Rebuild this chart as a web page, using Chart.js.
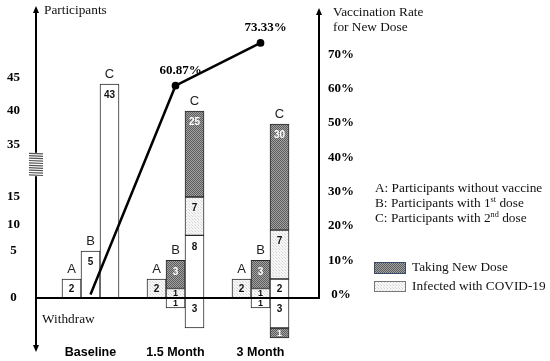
<!DOCTYPE html>
<html><head><meta charset="utf-8">
<script src="https://cdn.jsdelivr.net/npm/chart.js@4.4.1/dist/chart.umd.min.js"></script>
<style>html,body{margin:0;padding:0;background:#fff;overflow:hidden}canvas{display:block}</style>
</head><body>
<canvas id="c" width="550" height="361"></canvas>
<script>
// ---------------- data ----------------
const categories = ['Baseline', '1.5 Month', '3 Month'];
const groupLetters = ['A', 'B', 'C'];
// participants still in study (positive) and withdrawn (negative)
const aNoNewDose = [2, null, null];
const aInfected = [null, 2, 2];
const bNoNewDose = [5, null, null];
const bInfected = [null, 1, 1];
const bNewDose = [null, 3, 3];
const bWithdraw = [null, -1, -1];
const cNoNewDose = [43, 8, 2];
const cInfected = [null, 7, 7];
const cNewDose = [null, 25, 30];
const cWithdraw = [null, -3, -3];
const cWithdrawNewDose = [null, null, -1];
// vaccination rate for new dose (%)
const vaccinationRate = [0, 60.87, 73.33];
const leftTicks = [0, 5, 10, 15, 35, 40, 45];
const rightTicks = [0, 10, 20, 30, 40, 50, 60, 70];

// ---------------- schematic broken axis ----------------
const DESIGN_TOP = 10, DESIGN_BOTTOM = 340;
const BREAK_KNOTS = [[-5, 348], [0, 298], [2, 279], [5, 251], [10, 225], [15, 197], [35, 145], [39, 124], [40, 111], [43, 84], [45, 78], [50, 62]];
function designPx(v) {
  const k = BREAK_KNOTS;
  let i = 0;
  while (i < k.length - 2 && v > k[i + 1][0]) i++;
  const [v0, p0] = k[i], [v1, p1] = k[i + 1];
  return p0 + (v - v0) * (p1 - p0) / (v1 - v0);
}
function designVal(px) {
  const k = BREAK_KNOTS;
  let i = 0;
  while (i < k.length - 2 && px < k[i + 1][1]) i++;
  const [v0, p0] = k[i], [v1, p1] = k[i + 1];
  return v0 + (px - p0) * (v1 - v0) / (p1 - p0);
}
class BrokenScale extends Chart.LinearScale {
  static id = 'broken';
  static defaults = {};
  getPixelForValue(value) {
    if (value === null || value === undefined || isNaN(value)) return NaN;
    const px = designPx(value);
    return this.getPixelForDecimal((DESIGN_BOTTOM - px) / (DESIGN_BOTTOM - DESIGN_TOP));
  }
  getValueForPixel(pixel) {
    const dec = this.getDecimalForPixel(pixel);
    return designVal(DESIGN_BOTTOM - dec * (DESIGN_BOTTOM - DESIGN_TOP));
  }
}
Chart.register(BrokenScale);

// ---------------- patterns ----------------
function makePattern(cells) {
  const n = cells.length;
  const c = document.createElement('canvas');
  c.width = n; c.height = n;
  const g = c.getContext('2d');
  cells.forEach((row, y) => row.forEach((col, x) => { g.fillStyle = col; g.fillRect(x, y, 1, 1); }));
  return g.createPattern(c, 'repeat');
}
const DARK = makePattern([['#5c5c5c', '#a2a2a2'], ['#a2a2a2', '#5c5c5c']]);
const DOTS = makePattern([['#d2d2d2', '#f7f7f7', '#f7f7f7'], ['#f7f7f7', '#ececec', '#f7f7f7'], ['#f7f7f7', '#f7f7f7', '#dcdcdc']]);
const WHITE = '#ffffff';

const SERIF = "'Liberation Serif','Times New Roman',serif";
const SANS = "'Liberation Sans',Arial,sans-serif";

function pts(arr) { return arr.map((v, i) => ({ x: i, y: v })); }
function bar(stack, arr, fill, textColor) {
  return { type: 'bar', stack, data: pts(arr), backgroundColor: fill, borderColor: '#2a2a2a', borderWidth: 1,
    borderSkipped: false, barThickness: 19, order: 1, valueColor: textColor, yAxisID: 'y' };
}

const datasets = [
  { type: 'line', data: pts(vaccinationRate), yAxisID: 'yR', borderColor: '#000', borderWidth: 2.5,
    pointRadius: [0, 2.6, 2.6], pointBackgroundColor: '#000', pointBorderColor: '#000', tension: 0, order: 0 },
  bar('A', aNoNewDose, WHITE, '#111'),
  bar('A', aInfected, DOTS, '#111'),
  bar('B', bNoNewDose, WHITE, '#111'),
  bar('B', bInfected, DOTS, '#111'),
  bar('B', bNewDose, DARK, '#fff'),
  bar('B', bWithdraw, WHITE, '#111'),
  bar('C', cNoNewDose, WHITE, '#111'),
  bar('C', cInfected, DOTS, '#111'),
  bar('C', cNewDose, DARK, '#fff'),
  bar('C', cWithdraw, WHITE, '#111'),
  bar('C', cWithdrawNewDose, DARK, '#fff'),
];

function arrow(ctx, x, y, dir) {
  ctx.beginPath();
  ctx.moveTo(x, y);
  ctx.lineTo(x - 3, y - 7 * dir);
  ctx.lineTo(x + 3, y - 7 * dir);
  ctx.closePath();
  ctx.fill();
}
function supText(ctx, parts, x, y, size) {
  let cx = x;
  parts.forEach(([t, sup]) => {
    ctx.font = (sup ? size * 0.62 : size) + 'px ' + SERIF;
    ctx.fillText(t, cx, sup ? y - size * 0.3 : y);
    cx += ctx.measureText(t).width;
  });
}
function noPad(s) { s.paddingTop = 0; s.paddingBottom = 0; s.paddingLeft = 0; s.paddingRight = 0; }

const overlay = {
  id: 'overlay',
  afterDatasetsDraw(chart) {
    const ctx = chart.ctx;
    ctx.save();
    ctx.textAlign = 'center';
    ctx.textBaseline = 'middle';
    // value labels inside bar segments
    chart.data.datasets.forEach((ds, di) => {
      const meta = chart.getDatasetMeta(di);
      if (meta.type !== 'bar') return;
      meta.data.forEach((el, i) => {
        const v = ds.data[i].y;
        if (v === null || v === undefined) return;
        const top = Math.min(el.y, el.base), bot = Math.max(el.y, el.base);
        const ty = Math.min((top + bot) / 2, top + 11);
        ctx.fillStyle = ds.valueColor;
        ctx.font = 'bold ' + (bot - top < 13 ? 9 : 10) + 'px ' + SANS;
        ctx.fillText(String(Math.abs(v)), el.x, ty + 0.5);
      });
    });
    // group letters above each stack
    ctx.font = '13px ' + SANS;
    ctx.fillStyle = '#222';
    groupLetters.forEach(letter => {
      categories.forEach((c, i) => {
        let topY = Infinity, x = null;
        chart.data.datasets.forEach((ds, di) => {
          const meta = chart.getDatasetMeta(di);
          if (meta.type !== 'bar' || ds.stack !== letter) return;
          const v = ds.data[i].y;
          if (v === null || v <= 0) return;
          const el = meta.data[i];
          if (el.y < topY) { topY = el.y; x = el.x; }
        });
        if (x !== null) ctx.fillText(letter, x, topY - 10);
      });
    });
    // percent labels on line
    const lineMeta = chart.getDatasetMeta(0);
    ctx.font = 'bold 13px ' + SERIF;
    ctx.fillStyle = '#000';
    lineMeta.data.forEach((p, i) => {
      if (vaccinationRate[i] > 0) ctx.fillText(vaccinationRate[i].toFixed(2) + '%', p.x + 5, p.y - 15);
    });
    ctx.restore();
  },
  afterDraw(chart) {
    const ctx = chart.ctx;
    const a = chart.chartArea;
    const y = chart.scales.y;
    const zero = y.getPixelForValue(0);
    ctx.save();
    ctx.strokeStyle = '#000';
    ctx.fillStyle = '#000';
    ctx.lineWidth = 2;
    // left axis (double arrow)
    ctx.beginPath(); ctx.moveTo(a.left, 12); ctx.lineTo(a.left, 346); ctx.stroke();
    arrow(ctx, a.left, 6, -1);
    arrow(ctx, a.left, 352, 1);
    // right axis
    ctx.beginPath(); ctx.moveTo(a.right, 12); ctx.lineTo(a.right, zero + 1); ctx.stroke();
    arrow(ctx, a.right, 8, -1);
    // zero line
    ctx.beginPath(); ctx.moveTo(a.left, zero); ctx.lineTo(a.right + 1, zero); ctx.stroke();
    // axis break coil
    const yb0 = y.getPixelForValue(32), yb1 = y.getPixelForValue(23);
    ctx.fillStyle = '#fff';
    ctx.fillRect(a.left - 7, yb0, 14, yb1 - yb0);
    ctx.strokeStyle = '#555';
    ctx.lineWidth = 1.2;
    for (let yy = yb0 + 0.5; yy <= yb1; yy += 2.4) {
      ctx.beginPath(); ctx.moveTo(a.left - 7, yy); ctx.lineTo(a.left + 7, yy + 0.6); ctx.stroke();
    }
    // titles
    ctx.fillStyle = '#111';
    ctx.textAlign = 'left';
    ctx.textBaseline = 'middle';
    ctx.font = '13.3px ' + SERIF;
    ctx.fillText('Participants', 44, 11);
    ctx.fillText('Vaccination Rate', 333, 13);
    ctx.fillText('for New Dose', 333, 28);
    ctx.fillText('Withdraw', 42, 320);
    // group description
    supText(ctx, [['A: Participants without vaccine', false]], 375, 189, 13.3);
    supText(ctx, [['B: Participants with 1', false], ['st', true], [' dose', false]], 375, 204, 13.3);
    supText(ctx, [['C: Participants with 2', false], ['nd', true], [' dose', false]], 375, 219, 13.3);
    // pattern legend
    ctx.lineWidth = 1;
    ctx.strokeStyle = '#3a4a6a';
    ctx.fillStyle = DARK;
    ctx.fillRect(374, 262, 32, 12); ctx.strokeRect(374.5, 262.5, 31, 11);
    ctx.fillStyle = DOTS;
    ctx.strokeStyle = '#777';
    ctx.fillRect(374, 281, 32, 11); ctx.strokeRect(374.5, 281.5, 31, 10);
    ctx.fillStyle = '#111';
    ctx.font = '13.3px ' + SERIF;
    ctx.fillText('Taking New Dose', 412, 268);
    ctx.fillText('Infected with COVID-19', 412, 287);
    ctx.restore();
  }
};

new Chart(document.getElementById('c'), {
  type: 'bar',
  data: { datasets },
  options: {
    responsive: false,
    animation: false,
    events: [],
    layout: { padding: { top: 10, left: 0, right: 0, bottom: 0 } },
    plugins: { legend: { display: false }, tooltip: { enabled: false } },
    scales: {
      x: {
        type: 'linear', position: 'bottom', min: -0.641, max: 2.688, offset: false,
        grid: { display: false, drawTicks: false }, border: { display: false },
        afterBuildTicks: s => { s.ticks = categories.map((c, i) => ({ value: i })); },
        afterFit: s => { s.height = 21; noPad(s); },
        ticks: { autoSkip: false, maxRotation: 0, padding: 5, color: '#000',
          font: { family: SANS, size: 12.5, weight: 'bold' },
          callback: v => categories[v] }
      },
      y: {
        type: 'broken', position: 'left', stacked: true, min: -5, max: 50,
        grid: { display: false, drawTicks: false }, border: { display: false },
        afterBuildTicks: s => { s.ticks = leftTicks.map(v => ({ value: v })); },
        afterFit: s => { s.width = 36; noPad(s); },
        ticks: { autoSkip: false, crossAlign: 'center', padding: 16, color: '#000',
          font: { family: SERIF, size: 13, weight: 'bold' } }
      },
      yR: {
        type: 'linear', position: 'right', min: -13.27, max: 82.94,
        grid: { display: false, drawTicks: false }, border: { display: false },
        afterBuildTicks: s => { s.ticks = rightTicks.map(v => ({ value: v })); },
        afterFit: s => { s.width = 231; noPad(s); },
        ticks: { autoSkip: false, crossAlign: 'center', padding: 9, color: '#000',
          font: { family: SERIF, size: 13, weight: 'bold' },
          callback: v => v + '%' }
      }
    }
  },
  plugins: [overlay]
});
</script>
</body></html>
